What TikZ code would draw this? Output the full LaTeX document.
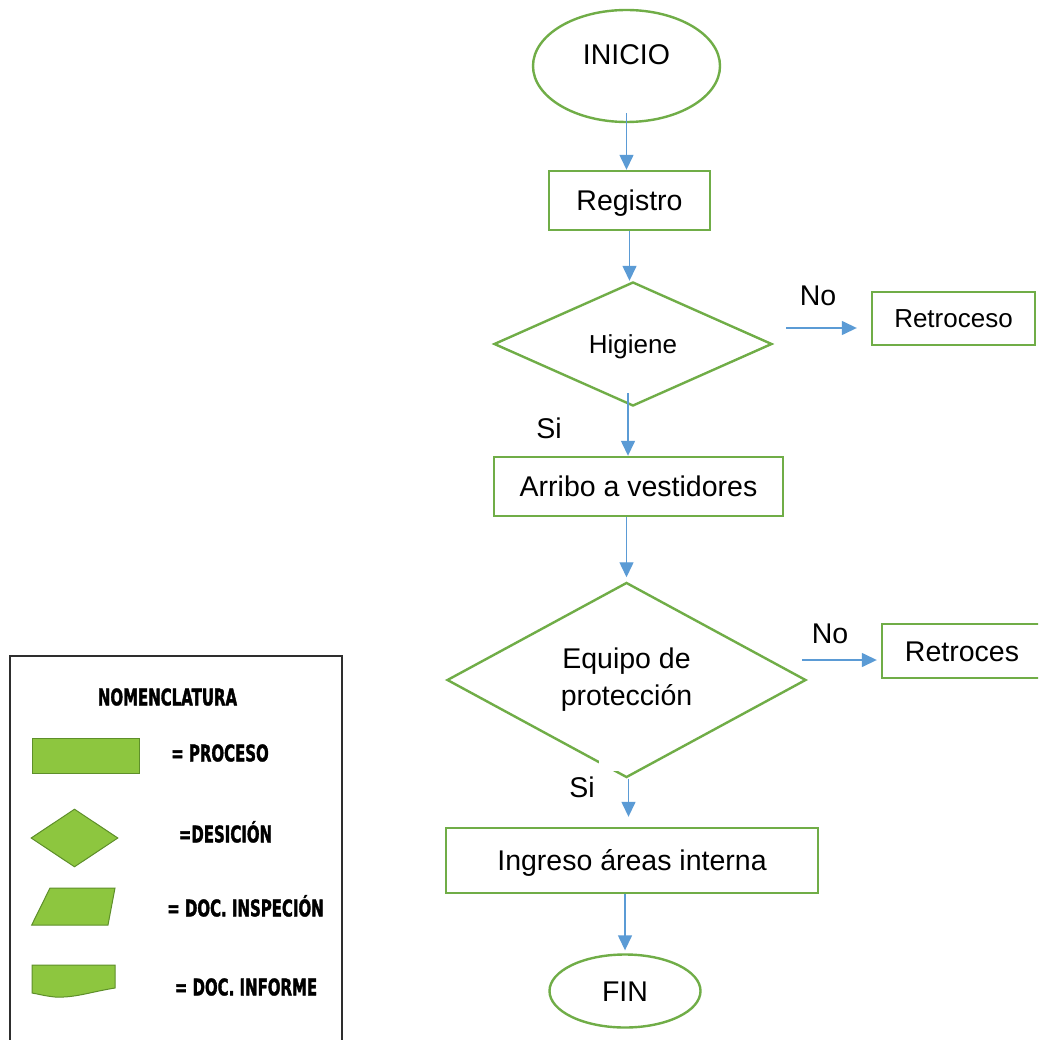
\documentclass[tikz,border=0pt]{standalone}
\usepackage{fontspec}
\setmainfont{Liberation Sans}
\newfontfamily\legfont[FakeStretch=0.65, FakeBold=1.5]{DejaVu Sans}
\usetikzlibrary{shapes.geometric,arrows.meta}
\definecolor{gline}{HTML}{70AD47}
\definecolor{barrow}{HTML}{5B9BD5}
\definecolor{lfill}{HTML}{8DC63F}
\definecolor{ldraw}{HTML}{5E8F2A}
\definecolor{lborder}{HTML}{2E2E2E}
\begin{document}
\begin{tikzpicture}[x=1pt,y=-1pt,
 big/.style={font=\fontsize{28.5}{34}\selectfont, text height=20.5pt, text depth=0pt},
 mid/.style={font=\fontsize{26}{31}\selectfont, text height=18.6pt, text depth=0pt},
 procbox/.style={draw=gline, line width=2.4pt, rectangle, inner sep=0pt},
 term/.style={draw=gline, line width=2.4pt, ellipse, inner sep=0pt},
 decis/.style={draw=gline, line width=2.4pt, diamond, inner sep=0pt},
 arr/.style={draw=barrow, line width=1.4pt, -{Triangle[length=15pt,width=14pt]}},
 lbl/.style={big, inner sep=0pt},
 legshape/.style={fill=lfill, draw=ldraw, line width=1pt},
 legtxt/.style={font=\legfont\bfseries\fontsize{23}{27}\selectfont, inner sep=0pt, text height=16.8pt, text depth=0pt},
]
\useasboundingbox (0,0) rectangle (1038,1040);
\clip (0,0) rectangle (1038,1040);
\fill[white] (0,0) rectangle (1038,1040);

% flowchart nodes
\node[term, big, minimum width=187pt, minimum height=112pt, text depth=24pt] (inicio) at (626.5,66) {INICIO};
\node[procbox, big, minimum width=161pt, minimum height=59pt] (registro) at (629.5,200.5) {Registro};
\node[decis, mid, minimum width=278pt, minimum height=124pt] (higiene) at (633,344) {Higiene};
\node[procbox, mid, minimum width=163pt, minimum height=53pt] (retro1) at (953.5,318.5) {Retroceso};
\node[procbox, big, minimum width=289pt, minimum height=59pt] (arribo) at (638.5,486.5) {Arribo a vestidores};
\node[decis, font=\fontsize{28.5}{37}\selectfont, align=center, minimum width=359pt, minimum height=189pt] (equipo) at (626.5,680) {Equipo de\\protección};
\node[procbox, big, minimum width=160pt, minimum height=54pt] (retro2) at (962,651) {Retroces};
\node[procbox, big, minimum width=372pt, minimum height=65pt] (ingreso) at (632,860.5) {Ingreso áreas interna};
\node[term, big, minimum width=151pt, minimum height=73pt] (fin) at (625,991) {FIN};

% gap in the diamond outline
\fill[white] (599,756) rectangle (621,771);

% labels
\node[lbl] (no1) at (818,295) {No};
\node[lbl] (si1) at (549,428) {Si};
\node[lbl] (no2) at (830,633) {No};
\node[lbl] (si2) at (582,787) {Si};

% helper coordinates
\coordinate (c1) at (inicio.south |- registro.north);
\coordinate (c2) at (registro.south |- higiene.north);
\coordinate (h1) at ([shift={(-5,-14)}]higiene.south);
\coordinate (h1e) at (h1 |- arribo.north);
\coordinate (a1) at (equipo.north |- arribo.south);
\coordinate (e0) at ([shift={(2,0)}]equipo.south);
\coordinate (e1) at (e0 |- ingreso.north);
\coordinate (i1) at (fin.north |- ingreso.south);
\coordinate (n1) at ([shift={(13,-16)}]higiene.east);
\coordinate (n1e) at (n1 -| retro1.west);
\coordinate (n2) at ([shift={(-5,-20)}]equipo.east);
\coordinate (n2e) at (n2 -| retro2.west);

% connectors
\draw[arr] ([yshift=10pt]inicio.south) -- (c1);
\draw[arr] (registro.south) -- (c2);
\draw[arr] (h1) -- (h1e);
\draw[arr] (a1) -- ([yshift=4pt]equipo.north);
\draw[arr] (e0) -- ([yshift=10pt]e1);
\draw[arr] (i1) -- ([yshift=3pt]fin.north);
\draw[arr] (n1) -- ([xshift=-14pt]n1e);
\draw[arr] (n2) -- ([xshift=-4pt]n2e);

% legend
\draw[lborder, line width=2.8pt] (10,656) rectangle (342,1060);
\node[legtxt] (nom) at (167.5,697) {NOMENCLATURA};
\node[legshape, rectangle, minimum width=107pt, minimum height=35pt, inner sep=0pt] (lproc) at (85.5,755.5) {};
\node[legshape, diamond, minimum width=87pt, minimum height=58pt, inner sep=0pt] (ldec) at (74.5,838) {};
\filldraw[legshape] (31.7,925) -- (50,888) -- (115,888) -- (108,925) -- cycle;
\filldraw[legshape] (32,965) -- (115,965) -- (115,988) .. controls (90,992) and (75,998) .. (55,997) .. controls (45,996) and (38,994) .. (32,993) -- cycle;
\node[legtxt] (lt1) at (220,753) {= PROCESO};
\node[legtxt] (lt2) at (225.5,834) {=DESICIÓN};
\node[legtxt] (lt3) at (245.5,908) {= DOC. INSPECIÓN};
\node[legtxt] (lt4) at (246,987) {= DOC. INFORME};
\end{tikzpicture}
\end{document}
